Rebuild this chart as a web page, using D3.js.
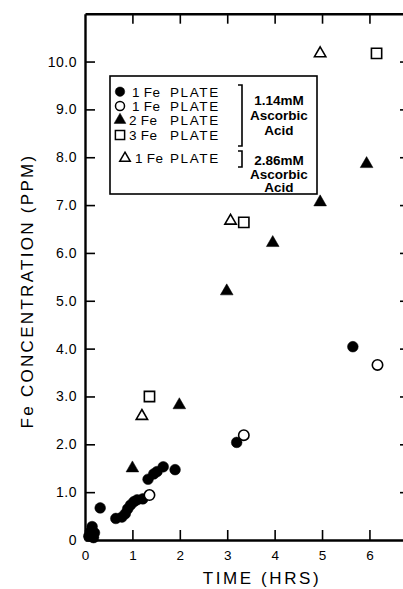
<!DOCTYPE html>
<html>
<head>
<meta charset="utf-8">
<script src="https://cdn.jsdelivr.net/npm/d3@7"></script>
<style>
  html, body { margin: 0; padding: 0; background: #fff; }
  text { font-family: "Liberation Sans", Arial, sans-serif; fill: #000; }
</style>
</head>
<body>
<script>
// values: time (hrs) and Fe concentration (ppm)
var fe1Time = [0.08, 0.12, 0.15, 0.2, 0.18, 0.32, 0.65, 0.78, 0.85, 0.9, 0.96, 1.03, 1.1, 1.22, 1.33, 1.45, 1.52, 1.65, 1.9, 3.2, 5.65];
var fe1Conc = [0.08, 0.18, 0.28, 0.15, 0.05, 0.67, 0.45, 0.48, 0.55, 0.65, 0.73, 0.8, 0.84, 0.86, 1.27, 1.38, 1.43, 1.53, 1.47, 2.04, 4.04];
var fe1bTime = [1.36, 3.35, 6.17];
var fe1bConc = [0.94, 2.19, 3.66];
var fe2Time = [1.0, 1.99, 2.99, 3.96, 4.96, 5.94];
var fe2Conc = [1.5, 2.82, 5.2, 6.21, 7.06, 7.86];
var fe3Time = [1.36, 3.35, 6.15];
var fe3Conc = [3.0, 6.64, 10.17];
var fe1hiTime = [1.2, 3.07, 4.96];
var fe1hiConc = [2.59, 6.67, 10.17];

var xTicks = [0, 1, 2, 3, 4, 5, 6];
var yTicks = [0, 1, 2, 3, 4, 5, 6, 7, 8, 9, 10];
var legendLabels = ["1 Fe", "1 Fe", "2 Fe", "3 Fe", "1 Fe"];

var W = 403, H = 589;
var svg = d3.select("body").append("svg").attr("width", W).attr("height", H);

var x = d3.scaleLinear().domain([0, 6.75]).range([85, 405]);
var y = d3.scaleLinear().domain([0, 11]).range([540, 13.7]);

function styleAxis(g) {
  g.select(".domain").attr("stroke", "#000").attr("stroke-width", 2.4);
  g.selectAll(".tick line").attr("stroke", "#000").attr("stroke-width", 1.6);
}

// bottom axis
svg.append("g").attr("transform", "translate(0," + y(0) + ")")
  .call(d3.axisBottom(x).tickValues(xTicks).tickSizeInner(-10).tickSizeOuter(0).tickPadding(10)
    .tickFormat(d3.format("d")))
  .call(styleAxis)
  .call(function(g) { g.selectAll("text").attr("font-size", 13.5).attr("font-family", "Liberation Sans"); });

// left axis
svg.append("g").attr("transform", "translate(" + x(0) + ",0)")
  .call(d3.axisLeft(y).tickValues(yTicks).tickSizeInner(-10).tickSizeOuter(0).tickPadding(8)
    .tickFormat(function(d) { return d === 0 ? "0" : d.toFixed(1); }))
  .call(styleAxis)
  .call(function(g) {
    g.selectAll("text").attr("font-size", 14).attr("font-family", "Liberation Sans").attr("letter-spacing", 0.5);
    g.selectAll(".tick").filter(function(d) { return d === 0; }).select("line").remove();
  });

// top frame
svg.append("g").attr("transform", "translate(0," + y(11) + ")")
  .call(d3.axisTop(x).tickValues(xTicks.slice(1)).tickSizeInner(-10).tickSizeOuter(0).tickFormat(""))
  .call(styleAxis);

// right frame (mostly cut off at the page edge)
svg.append("g").attr("transform", "translate(" + x(6.75) + ",0)")
  .call(d3.axisRight(y).tickValues(yTicks.slice(1)).tickSizeInner(-5).tickSizeOuter(0).tickFormat(""))
  .call(styleAxis);

// axis titles
svg.append("text")
  .attr("x", 262).attr("y", 584)
  .attr("text-anchor", "middle")
  .attr("font-size", 17).attr("letter-spacing", 2.6)
  .text("TIME (HRS)");

svg.append("text")
  .attr("transform", "translate(33,291) rotate(-90)")
  .attr("text-anchor", "middle")
  .attr("font-size", 17).attr("letter-spacing", 2.3)
  .text("Fe CONCENTRATION (PPM)");

// markers
var series = [
  { t: fe1Time,   c: fe1Conc,   type: d3.symbolCircle,   size: 90,  fill: "#000" },
  { t: fe1bTime,  c: fe1bConc,  type: d3.symbolCircle,   size: 85,  fill: "#fff" },
  { t: fe2Time,   c: fe2Conc,   type: d3.symbolTriangle, size: 70,  fill: "#000" },
  { t: fe3Time,   c: fe3Conc,   type: d3.symbolSquare,   size: 105, fill: "#fff" },
  { t: fe1hiTime, c: fe1hiConc, type: d3.symbolTriangle, size: 56,  fill: "#fff" }
];

series.forEach(function(s) {
  var pts = s.t.map(function(t, i) { return [t, s.c[i]]; });
  svg.append("g").selectAll("path")
    .data(pts).enter().append("path")
    .attr("transform", function(d) { return "translate(" + x(d[0]) + "," + y(d[1]) + ")"; })
    .attr("d", d3.symbol().type(s.type).size(s.size))
    .attr("fill", s.fill)
    .attr("stroke", "#000")
    .attr("stroke-width", s.fill === "#000" ? 0.5 : 1.6);
});

// legend
var lg = svg.append("g");
lg.append("rect").attr("x", 110).attr("y", 76).attr("width", 207).attr("height", 118)
  .attr("fill", "#fff").attr("stroke", "#000").attr("stroke-width", 1.6);

var rowY = [91.7, 106, 120, 135, 158.3];
var symX = [120, 120, 120, 120, 125];
var numX = [132, 132, 129, 129, 135];
var legendSize = [70, 64, 60, 85, 48];

series.forEach(function(s, i) {
  lg.append("path")
    .attr("transform", "translate(" + symX[i] + "," + rowY[i] + ")")
    .attr("d", d3.symbol().type(s.type).size(legendSize[i]))
    .attr("fill", s.fill).attr("stroke", "#000")
    .attr("stroke-width", s.fill === "#000" ? 0.5 : 1.5);
  lg.append("text").attr("x", numX[i]).attr("y", rowY[i] + 5)
    .attr("font-size", 13.5).attr("letter-spacing", 0.3)
    .text(legendLabels[i]);
  lg.append("text").attr("x", 170).attr("y", rowY[i] + 5)
    .attr("font-size", 13.5).attr("letter-spacing", 1.6)
    .text("PLATE");
});

// brackets
function bracket(xp, y0, y1) {
  lg.append("path")
    .attr("d", "M" + (xp - 4) + "," + y0 + "H" + xp + "V" + y1 + "H" + (xp - 4))
    .attr("fill", "none").attr("stroke", "#000").attr("stroke-width", 1.6);
}
bracket(242, 85, 146);
bracket(242, 151, 167);

var note1 = ["1.14mM", "Ascorbic", "Acid"];
var note2 = ["2.86mM", "Ascorbic", "Acid"];
var note1Y = [105, 120, 134.5];
var note2Y = [164.5, 178.5, 192];
note1.forEach(function(t, i) {
  lg.append("text").attr("x", 279).attr("y", note1Y[i]).attr("text-anchor", "middle")
    .attr("font-size", 13.5).attr("font-weight", "bold").attr("letter-spacing", 0).text(t);
});
note2.forEach(function(t, i) {
  lg.append("text").attr("x", 279).attr("y", note2Y[i]).attr("text-anchor", "middle")
    .attr("font-size", 13.5).attr("font-weight", "bold").attr("letter-spacing", 0).text(t);
});
</script>
</body>
</html>
